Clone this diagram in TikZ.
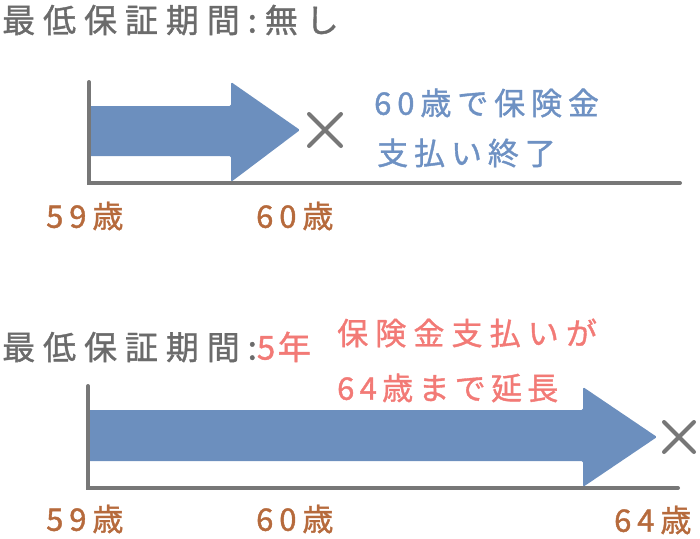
\documentclass[tikz,border=0pt]{standalone}
\usepackage{fontspec}
\usetikzlibrary{calc}
\newfontfamily\jpT[LetterSpace=24,FakeBold=1.2]{Noto Sans CJK JP}
\newfontfamily\jpS[LetterSpace=8,FakeBold=1.2]{Noto Sans CJK JP}
\newfontfamily\jpL[LetterSpace=19,FakeBold=1.2]{Noto Sans CJK JP}
\newfontfamily\jpW[LetterSpace=23,FakeBold=1.2]{Noto Sans CJK JP}
\newfontfamily\jpN[LetterSpace=17,FakeBold=1.2]{Noto Sans CJK JP}
\definecolor{axisgray}{HTML}{777777}
\definecolor{tgray}{HTML}{6B6B6B}
\definecolor{abl}{HTML}{6C8FBE}
\definecolor{tblue}{HTML}{6E91C3}
\definecolor{torange}{HTML}{B66A3C}
\definecolor{tred}{HTML}{F27A76}
\tikzset{
  axisline/.style={draw=axisgray, line width=4pt, line cap=round, line join=miter},
  bigarrow/.style={fill=abl, draw=none, rounded corners=1.5pt},
  xmark/.style={draw=axisgray, line width=4pt, line cap=round},
  title/.style={anchor=west, inner sep=0pt, font=\jpT\fontsize{33}{33}\selectfont, text=tgray},
  agelab/.style={anchor=west, inner sep=0pt, font=\jpL\fontsize{31}{31}\selectfont, text=torange},
  note/.style={anchor=west, inner sep=0pt, font=\jpL\fontsize{31}{31}\selectfont},
}
\begin{document}
\begin{tikzpicture}[x=1pt,y=-1pt]
\useasboundingbox (0,0) rectangle (700,538);
% ---------- top ----------
\node[title] (t1) at (2,20) {最低保証期間:無し};
\coordinate (a1top) at (89,82);
\coordinate (a1org) at (89,183);
\coordinate (a1end) at (680,183);
\fill[bigarrow] (89,106) -- (231,106) -- (231,82) -- (300,130) -- (231,182) -- (231,156) -- (89,156) -- cycle;
\draw[axisline] (a1top) -- (a1org) -- (a1end);
\coordinate (x1) at (325,130);
\draw[xmark] ($(x1)+(-16,-16)$) -- ($(x1)+(16,16)$);
\draw[xmark] ($(x1)+(-16,16)$) -- ($(x1)+(16,-16)$);
\node[note, text=tblue] (n1a) at (374,103) {60歳で保険金};
\node[note, text=tblue] (n1b) at (377,153) {支払い終了};
\node[agelab] (l1a) at (46,216) {59歳};
\node[agelab] (l1b) at (256,216) {60歳};
% ---------- bottom ----------
\node[title] (t2) at (2,347) {最低保証期間:{\jpS\fontsize{33}{33}\selectfont\color{tred}5年}};
\node[note, text=tred, font=\jpW\fontsize{31}{31}\selectfont] (n2a) at (337,333) {保険金支払いが};
\node[note, text=tred, font=\jpN\fontsize{31}{31}\selectfont] (n2b) at (337,388) {64歳まで延長};
\coordinate (a2top) at (88,386);
\coordinate (a2org) at (88,488);
\coordinate (a2end) at (678,488);
\fill[bigarrow] (88,410) -- (583,410) -- (583,387) -- (657,437) -- (583,487) -- (583,461) -- (88,461) -- cycle;
\draw[axisline] (a2top) -- (a2org) -- (a2end);
\coordinate (x2) at (679,437);
\draw[xmark] ($(x2)+(-15,-15)$) -- ($(x2)+(15,15)$);
\draw[xmark] ($(x2)+(-15,15)$) -- ($(x2)+(15,-15)$);
\node[agelab] (l2a) at (46,519) {59歳};
\node[agelab] (l2b) at (256,519) {60歳};
\node[agelab] (l2c) at (614,520) {64歳};
\end{tikzpicture}
\end{document}
